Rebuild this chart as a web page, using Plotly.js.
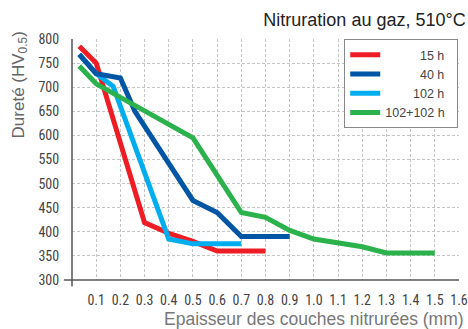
<!DOCTYPE html>
<html>
<head>
<meta charset="utf-8">
<script src="https://cdn.plot.ly/plotly-3.0.1.min.js"></script>
<style>html,body{margin:0;padding:0;background:#fff}#chart{width:468px;height:329px}</style>
</head>
<body>
<div id="chart"></div>
<script>
// Data
const seriesNames = ['15 h', '40 h', '102 h', '102+102 h'];
const x15 = [0.03, 0.1, 0.3, 0.4, 0.5, 0.6, 0.8];
const y15 = [785, 750, 419, 397, 380, 360, 360];
const x40 = [0.03, 0.1, 0.2, 0.26, 0.5, 0.6, 0.7, 0.9];
const y40 = [768, 728, 719, 650, 465, 440, 390, 390];
const x102 = [0.03, 0.1, 0.17, 0.4, 0.5, 0.7];
const y102 = [768, 728, 702, 385, 375, 375];
const x204 = [0.03, 0.1, 0.5, 0.7, 0.8, 0.9, 1.0, 1.1, 1.2, 1.3, 1.5];
const y204 = [744, 707, 595, 440, 430, 403, 385, 378, 369, 356, 356];
const xTicks = [0.1, 0.2, 0.3, 0.4, 0.5, 0.6, 0.7, 0.8, 0.9, 1.0, 1.1, 1.2, 1.3, 1.4, 1.5, 1.6];
const xTickText = ['0.1','0.2','0.3','0.4','0.5','0.6','0.7','0.8','0.9','1.0','1.1','1.2','1.3','1.4','1.5','1.6'];
const yTicks = [300, 350, 400, 450, 500, 550, 600, 650, 700, 750, 800];
const titleText = 'Nitruration au gaz, 510°C';
const xTitle = 'Epaisseur des couches nitrurées (mm)';
const yTitle = 'Dureté (HV<sub>0.5</sub>)';

const colors = ['#ee1c25', '#0055a4', '#00aeef', '#2bb24c'];
const FS = '\u2007';
const pads = [FS.repeat(5), FS.repeat(5), FS.repeat(4), ''];
const lw = 5;

function tr(x, y, i) {
  return {x: x, y: y, type: 'scatter', mode: 'lines', name: pads[i] + seriesNames[i] + FS,
    line: {color: colors[i], width: lw, shape: 'linear'}, hoverinfo: 'skip'};
}
// draw order: red, cyan, blue, green ; legend order by legendrank
const t0 = tr(x15, y15, 0); t0.legendrank = 1;
const t2 = tr(x102, y102, 2); t2.legendrank = 3;
const t1 = tr(x40, y40, 1); t1.legendrank = 2;
const t3 = tr(x204, y204, 3); t3.legendrank = 4;
const data = [t0, t2, t1, t3];

const font = 'Arial, "Liberation Sans", sans-serif';
const narrow = '"Liberation Sans Narrow", "Roboto Condensed", Arial, sans-serif';

const layout = {
  width: 468, height: 329,
  margin: {l: 72, r: 9, t: 38.5, b: 48.5, pad: 0},
  paper_bgcolor: '#fff', plot_bgcolor: '#fff',
  font: {family: font, color: '#444'},
  showlegend: true,
  title: {text: titleText, font: {family: font, size: 18, color: '#222'},
    xref: 'container', x: 0.995, xanchor: 'right', yref: 'container', y: 0.94, yanchor: 'middle'},
  xaxis: {range: [0, 1.6], tickvals: xTicks, ticktext: xTickText,
    showgrid: true, gridcolor: '#c4c4c4', gridwidth: 1, griddash: '3px,2px',
    zeroline: false, showline: false,
    ticks: 'outside', ticklen: 7, tickcolor: 'rgba(0,0,0,0)',
    ticklabeloverflow: 'allow',
    tickfont: {family: narrow, size: 14, color: '#444'},
    fixedrange: true},
  yaxis: {range: [300, 800], tickvals: yTicks,
    showgrid: true, gridcolor: '#c4c4c4', gridwidth: 1, griddash: '3px,2px',
    zeroline: false, showline: false,
    ticks: 'outside', ticklen: 9, tickcolor: 'rgba(0,0,0,0)',
    ticklabeloverflow: 'allow',
    tickfont: {family: narrow, size: 14, color: '#444'},
    fixedrange: true},
  legend: {x: 0.998, xanchor: 'right', y: 1.0, yanchor: 'top',
    bgcolor: '#fff', bordercolor: '#888', borderwidth: 1,
    font: {family: font, size: 12.5, color: '#444'}, tracegroupgap: 0,
    traceorder: 'normal'},
  shapes: [
    {type: 'line', xref: 'paper', yref: 'paper', x0: -0.021, x1: 1, y0: 0, y1: 0,
      line: {color: '#555', width: 1.5}},
    {type: 'line', xref: 'paper', yref: 'paper', x0: 0, x1: 0, y0: -0.027, y1: 1,
      line: {color: '#555', width: 1.5}}
  ],
  annotations: [
    {text: yTitle, xref: 'paper', yref: 'paper', x: -0.134, y: 0.808,
      xanchor: 'center', yanchor: 'middle', textangle: -90, showarrow: false,
      font: {family: font, size: 17, color: '#666'}},
    {text: xTitle, xref: 'paper', yref: 'paper', x: 1.017, y: -0.163,
      xanchor: 'right', yanchor: 'middle', showarrow: false,
      font: {family: font, size: 17.5, color: '#777'}}
  ]
};

Plotly.newPlot('chart', data, layout, {displayModeBar: false, staticPlot: true});
</script>
</body>
</html>
